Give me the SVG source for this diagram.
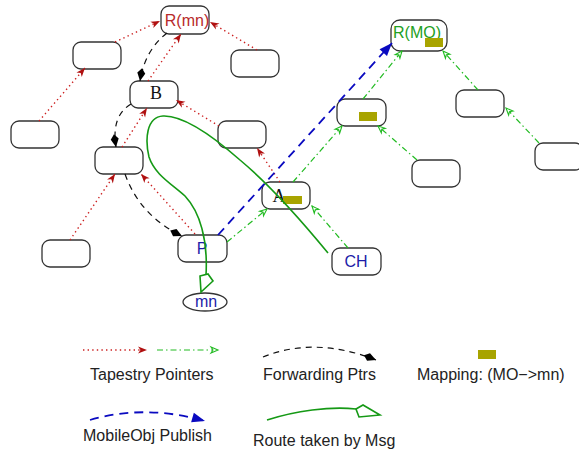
<svg xmlns="http://www.w3.org/2000/svg" width="579" height="453" viewBox="0 0 579 453">
  <style>
    .node { fill: #ffffff; stroke: #333333; stroke-width: 1.3; }
    .map { fill: #a8a400; stroke: none; }
    .sans { font-family: "Liberation Sans", Arial, sans-serif; font-size: 16px; }
    .serif { font-family: "Liberation Serif", "Times New Roman", serif; font-size: 18px; fill: #111111; }
    .lbl-red { fill: #b82a2a; }
    .lbl-green { fill: #22a022; }
    .lbl-blue { fill: #1c1ca8; }
    .legend { fill: #222222; }
    .tap-red { fill: none; stroke: #cc2020; stroke-width: 1.4; stroke-dasharray: 1.4 3.2; marker-end: url(#arrRed); }
    .tap-green { fill: none; stroke: #22bb22; stroke-width: 1.2; stroke-dasharray: 6 3 1.5 3; marker-end: url(#arrGreen); }
    .fwd { fill: none; stroke: #111111; stroke-width: 1.2; stroke-dasharray: 6 5; marker-end: url(#arrBlack); }
    .pub { fill: none; stroke: #0a0ac0; stroke-width: 1.8; stroke-dasharray: 9 6; marker-end: url(#arrBlue); }
    .route { fill: none; stroke: #159915; stroke-width: 1.6; }
    .route-head { fill: #ffffff; stroke: #159915; stroke-width: 1.6; stroke-linejoin: miter; }
  </style>
  <defs>
    <marker id="arrRed" markerUnits="userSpaceOnUse" viewBox="-10 -5 11 10" refX="0" refY="0" markerWidth="11" markerHeight="10" orient="auto" overflow="visible">
      <path d="M0,0 L-9,-3.5 L-6.5,0 L-9,3.5 Z" fill="#b01010"/>
    </marker>
    <marker id="arrGreen" markerUnits="userSpaceOnUse" viewBox="-10 -5 11 10" refX="0" refY="0" markerWidth="11" markerHeight="10" orient="auto" overflow="visible">
      <path d="M0,0 L-7,-3 L-5,0 L-7,3 Z" fill="#ffffff" stroke="#22bb22" stroke-width="1.1"/>
    </marker>
    <marker id="arrBlack" markerUnits="userSpaceOnUse" viewBox="-14 -5 15 10" refX="0" refY="0" markerWidth="15" markerHeight="10" orient="auto" overflow="visible">
      <path d="M0,0 L-8,-4 L-13,0 L-8,4 Z" fill="#000000"/>
    </marker>
    <marker id="arrBlue" markerUnits="userSpaceOnUse" viewBox="-14 -6 15 12" refX="0" refY="0" markerWidth="15" markerHeight="12" orient="auto" overflow="visible">
      <path d="M0,0 L-13,-5 L-13,5 Z" fill="#0a0ac0"/>
    </marker>
  </defs>

  <!-- tapestry tree rooted at R(mn) -->
  <g id="node-rmn">
    <rect class="node" x="161" y="6" width="48" height="28" rx="8"/>
    <text class="sans lbl-red" x="187" y="26" text-anchor="middle">R(mn)</text>
  </g>
  <g id="node-mn-l1"><rect class="node" x="73" y="42" width="48" height="27" rx="8"/></g>
  <g id="node-mn-r1"><rect class="node" x="231" y="50" width="48" height="27" rx="8"/></g>
  <g id="node-b">
    <rect class="node" x="130" y="81" width="48" height="27" rx="8"/>
    <text class="serif" x="156" y="99" text-anchor="middle">B</text>
  </g>
  <g id="node-mn-l2"><rect class="node" x="11" y="121" width="48" height="27" rx="8"/></g>
  <g id="node-mn-r2"><rect class="node" x="218" y="121" width="48" height="27" rx="8"/></g>
  <g id="node-mn-m"><rect class="node" x="95" y="147" width="48" height="27" rx="8"/></g>
  <g id="node-mn-bl"><rect class="node" x="42" y="240" width="48" height="27" rx="8"/></g>
  <g id="node-p">
    <rect class="node" x="178" y="235" width="49" height="27" rx="8"/>
    <text class="sans lbl-blue" x="202" y="254" text-anchor="middle">P</text>
  </g>
  <g id="node-mn">
    <ellipse class="node" cx="205" cy="302" rx="22" ry="9"/>
    <text class="sans lbl-blue" x="206" y="307" text-anchor="middle">mn</text>
  </g>

  <!-- tapestry tree rooted at R(MO) -->
  <g id="node-a">
    <rect class="node" x="262" y="182" width="48" height="27" rx="8"/>
    <text class="serif" x="279" y="202" text-anchor="middle">A</text>
    <rect class="map" x="283" y="196" width="19" height="8"/>
  </g>
  <g id="node-ch">
    <rect class="node" x="332" y="248" width="49" height="27" rx="8"/>
    <text class="sans lbl-blue" x="356" y="267" text-anchor="middle">CH</text>
  </g>
  <g id="node-rmo">
    <rect class="node" x="391" y="20" width="56" height="31" rx="9"/>
    <text class="sans lbl-green" x="393" y="38">R(MO)</text>
    <rect class="map" x="425" y="38" width="18" height="9"/>
  </g>
  <g id="node-mo1">
    <rect class="node" x="337" y="99" width="49" height="27" rx="8"/>
    <rect class="map" x="359" y="112" width="18" height="9"/>
  </g>
  <g id="node-mo2"><rect class="node" x="456" y="90" width="48" height="27" rx="8"/></g>
  <g id="node-mo3"><rect class="node" x="412" y="160" width="48" height="27" rx="8"/></g>
  <g id="node-mo4"><rect class="node" x="535" y="143" width="48" height="27" rx="8"/></g>

  <g id="connectors">
    <!-- tapestry pointers, mn tree -->
    <path class="tap-red" d="M115,42 L160,21"/>
    <path class="tap-red" d="M257,50 L210,22"/>
    <path class="tap-red" d="M148,81 L181,34"/>
    <path class="tap-red" d="M39,121 L85,68"/>
    <path class="tap-red" d="M122,147 L147,108"/>
    <path class="tap-red" d="M219,126 L176,100"/>
    <path class="tap-red" d="M70,240 L115,174"/>
    <path class="tap-red" d="M195,234 L141,174"/>
    <path class="tap-red" d="M280,182 L257,148"/>

    <!-- tapestry pointers, MO tree -->
    <path class="tap-green" d="M363,99 L402,51"/>
    <path class="tap-green" d="M478,90 L443,51"/>
    <path class="tap-green" d="M417,160 L378,126"/>
    <path class="tap-green" d="M539,143 L506,108"/>
    <path class="tap-green" d="M293,182 L342,126"/>
    <path class="tap-green" d="M227,242 L267,209"/>
    <path class="tap-green" d="M348,248 L312,206"/>

    <!-- forwarding pointers -->
    <path class="fwd" d="M167,33 Q145,50 140,81"/>
    <path class="fwd" d="M131,104 Q111,116 116,147"/>
    <path class="fwd" d="M125,174 Q140,216 182,236"/>

    <!-- MobileObj publish -->
    <path class="pub" d="M218,235 L392,43"/>

    <!-- route taken by the message -->
    <path class="route" d="M328,253 C305,225 270,185 240,160 C215,138 185,115 163,116 C146,117 145,140 149,157 C155,175 172,184 185,196 C200,212 208,240 206,275"/>
    <polygon class="route-head" points="200,276 208,274 213,281 201,292"/>
  </g>

  <!-- legend -->
  <g id="legend">
    <path class="tap-red" d="M83,350 L147,350"/>
    <path class="tap-green" d="M157,350 L218,350"/>
    <text class="sans legend" x="90" y="380">Tapestry Pointers</text>

    <path class="fwd" d="M263,357 Q315,336 376,360"/>
    <text class="sans legend" x="263" y="380">Forwarding Ptrs</text>

    <rect class="map" x="478" y="350" width="18" height="9"/>
    <text class="sans legend" x="417" y="380">Mapping: (MO−&gt;mn)</text>

    <path class="pub" d="M90,420 Q145,404 205,421"/>
    <text class="sans legend" x="83" y="441">MobileObj Publish</text>

    <path class="route" d="M267,420 C295,411 330,406 356,409"/>
    <polygon class="route-head" points="356,409 363,405 380,415 359,417"/>
    <text class="sans legend" x="253" y="446">Route taken by Msg</text>
  </g>
</svg>
